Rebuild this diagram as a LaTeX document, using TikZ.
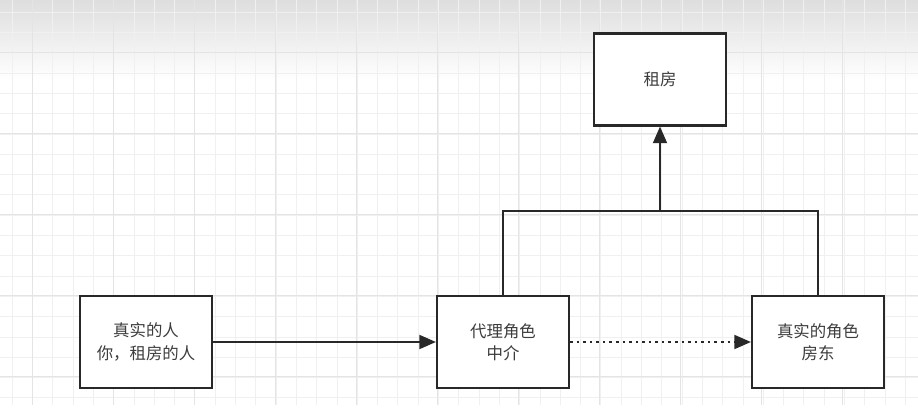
\documentclass[tikz,border=0pt]{standalone}
\usepackage{fontspec}
\newfontfamily\cjk{Noto Sans CJK SC}
\usepackage{tikz}
\usetikzlibrary{arrows.meta,positioning}
\usepackage{xcolor}
\definecolor{gridminor}{RGB}{240, 240, 240}
\definecolor{gridmajor}{RGB}{228, 228, 228}
\definecolor{textgray}{RGB}{60, 60, 60}
\definecolor{linegray}{RGB}{40, 40, 40}

\tikzset{
    rolebox/.style={draw=linegray, line width=1.8pt, fill=white, minimum width=3.96cm,
        minimum height=2.76cm, align=center, font=\cjk\fontsize{14}{19}\selectfont,
        text=textgray, inner sep=0pt},
    link/.style={draw=linegray, line width=1.7pt},
    tip/.style={-{Triangle[length=0.5cm, width=0.42cm]}}
}

\begin{document}
\begin{tikzpicture}[x=0.03cm, y=-0.03cm]
    \useasboundingbox (0,0) rectangle (918,415);
    \fill[white] (0,0) rectangle (918,415);
    % Top shade of the canvas
    \shade[top color=black!13, bottom color=white] (0,0) rectangle (918,80);

    % Grid
    \foreach \x in {12,32.3,...,918} \draw[gridminor, line width=0.5pt] (\x,0) -- (\x,405);
    \foreach \y in {12,32.3,...,405} \draw[gridminor, line width=0.5pt] (0,\y) -- (918,\y);
    \foreach \x in {32,113,...,918} \draw[gridmajor, line width=0.6pt] (\x,0) -- (\x,405);
    \foreach \y in {52,133,...,405} \draw[gridmajor, line width=0.6pt] (0,\y) -- (918,\y);

    % Boxes
    \node[rolebox] (renter) at (146,342) {真实的人\\你，租房的人};
    \node[rolebox] (proxy) at (503,342) {代理角色\\中介};
    \node[rolebox] (landlord) at (818,342) {真实的角色\\房东};
    \node[rolebox] (rent) at (660,79.5) {租房};

    % Connectors
    \coordinate (join) at (660,211);
    \draw[link, tip] (renter) -- (proxy);
    \draw[link, tip, dash pattern=on 2.2pt off 3.4pt] (proxy) -- (landlord);
    \draw[link] (proxy.north) |- (join) -| (landlord.north);
    \draw[link, tip] (join) -- (rent);
\end{tikzpicture}
\end{document}
